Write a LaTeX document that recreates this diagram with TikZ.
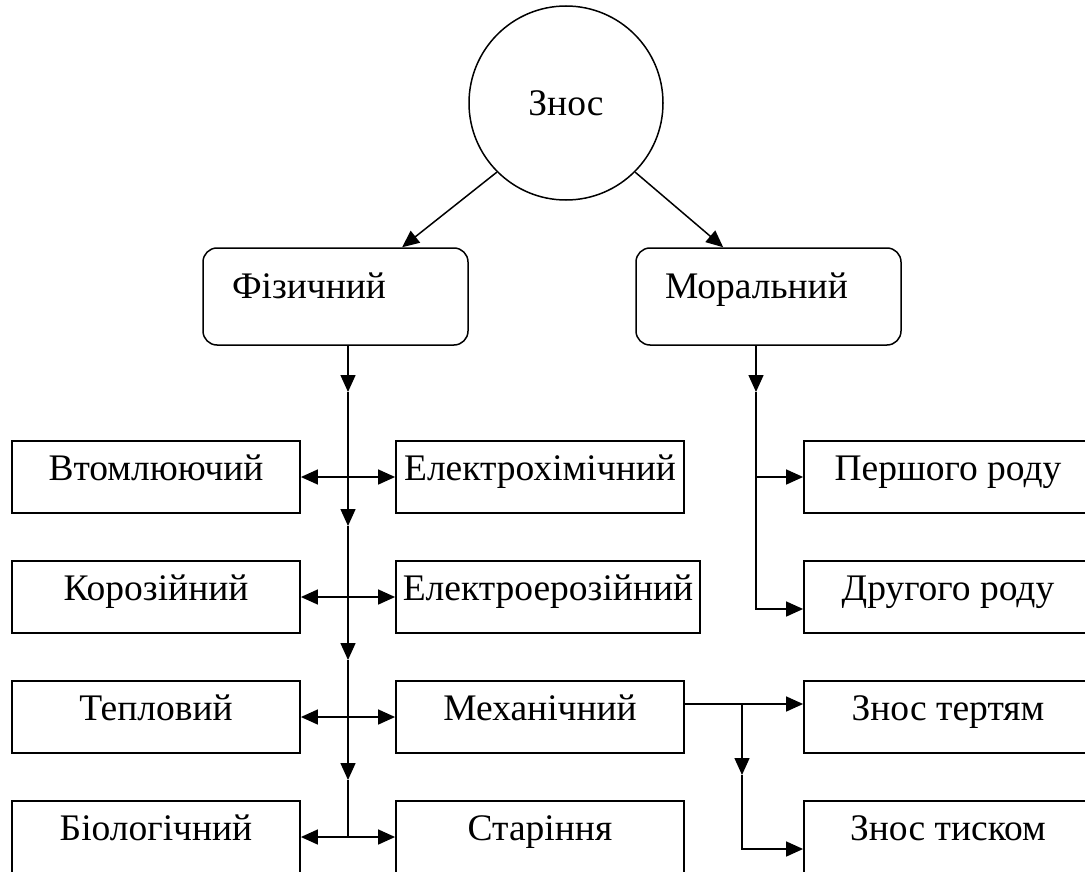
\documentclass[tikz,border=0pt]{standalone}
\usepackage{fontspec}
\setmainfont{Liberation Serif}
\usetikzlibrary{arrows.meta,calc}
\begin{document}
\begin{tikzpicture}[x=1pt,y=-1pt,
  font=\fontsize{37.5}{42}\selectfont,
  box/.style={draw,line width=1.8pt,rectangle,inner sep=0pt,minimum width=288pt,text height=39pt,text depth=33pt},
  rbox/.style={draw,line width=1.5pt,rounded corners=14pt,inner xsep=29pt,inner ysep=0pt,text width=207pt,align=left,text height=50pt,text depth=47pt},
  conn/.style={line width=1.5pt,-{Triangle[length=17pt,width=15pt]}},
  plain/.style={line width=1.5pt},
  dbl/.style={line width=1.5pt,{Triangle[length=17pt,width=15pt]}-{Triangle[length=17pt,width=15pt]}}]
\useasboundingbox (0,0) rectangle (1085,872);
\clip (0,0) rectangle (1085,872);

% top
\node[circle,draw,line width=1.5pt,minimum size=194pt,inner sep=0pt] (zn) at (566,103) {Знос};
\node[rbox] (fiz) at (335.5,296.5) {Фізичний};
\node[rbox] (mor) at (768.5,296.5) {Моральний};

% left column
\node[box] (vt)  at (156,477) {Втомлюючий};
\node[box] (kor) at (156,597) {Корозійний};
\node[box] (tep) at (156,717) {Тепловий};
\node[box] (bio) at (156,837) {Біологічний};

% middle column
\node[box] (elh)  at (540,477) {Електрохімічний};
\node[box,minimum width=304pt] (ele) at (548,597) {Електроерозійний};
\node[box] (mech) at (540,717) {Механічний};
\node[box] (star) at (540,837) {Старіння};

% right column
\node[box] (persh) at (948,477) {Першого роду};
\node[box] (druh)  at (948,597) {Другого роду};
\node[box] (zt)    at (948,717) {Знос тертям};
\node[box] (ztys)  at (948,837) {Знос тиском};

% arrows from circle
\draw[conn] (zn.south west) -- ($(fiz.north east)!0.25!(fiz.north west)$);
\draw[conn] (zn.south east) -- ($(mor.north west)!0.33!(mor.north east)$);

% spine of physical
\coordinate (s1) at (348,392);
\coordinate (s2) at (348,526);
\coordinate (s3) at (348,660);
\coordinate (s4) at (348,780);
\draw[conn] (fiz.south -| s1) -- (s1);
\draw[conn] (s1) -- (s2);
\draw[conn] (s2) -- (s3);
\draw[conn] (s3) -- (s4);
\draw[plain] (s4) -- (bio.east -| s4);

\draw[dbl] (vt.east) -- (elh.west);
\draw[dbl] (kor.east) -- (ele.west);
\draw[dbl] (tep.east) -- (mech.west);
\draw[dbl] (bio.east) -- (star.west);

% moral
\coordinate (m1) at (756,392);
\draw[conn] (mor.south -| m1) -- (m1);
\draw[conn] (m1) |- ([yshift=-12pt]druh.west);
\draw[conn] (m1 |- persh.west) -- (persh.west);

% mechanical
\coordinate (b1) at (742,775);
\draw[conn] ([yshift=13pt]mech.east) -- ([yshift=13pt]zt.west);
\draw[conn] ([yshift=13pt]mech.east -| b1) -- (b1);
\draw[conn] (b1) |- ([yshift=-12pt]ztys.west);
\end{tikzpicture}
\end{document}
